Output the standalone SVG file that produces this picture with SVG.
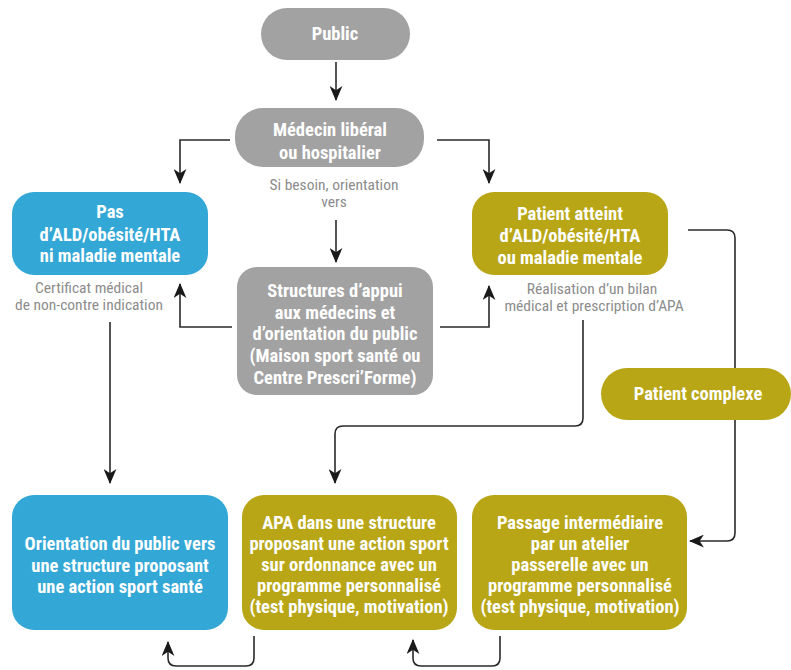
<svg xmlns="http://www.w3.org/2000/svg" width="791" height="670" viewBox="0 0 791 670">
<defs>
<marker id="ah" markerUnits="userSpaceOnUse" viewBox="0 0 14 12" refX="13" refY="6" markerWidth="15" markerHeight="13" orient="auto">
<path d="M0,0 L14,6 L0,12 L4,6 z" fill="#1a1a1a"/>
</marker>
<style>
.gray{fill:#a2a2a2}
.blue{fill:#33a7d6}
.olive{fill:#b8a617}
.t{font-family:"Liberation Sans Narrow","Roboto Condensed","Liberation Sans",Arial,sans-serif;font-weight:bold;font-size:18.5px;fill:#fff;text-anchor:middle}
.lbl{font-family:"Liberation Sans Narrow","Roboto Condensed","Liberation Sans",Arial,sans-serif;font-size:15.5px;fill:#8c8c8c;text-anchor:middle}
.c{fill:none;stroke:#2a2a2a;stroke-width:1.6}
</style>
</defs>
<rect width="791" height="670" fill="#fff"/>
<g id="connectors">
<path class="c" d="M336,62 V100" marker-end="url(#ah)"/>
<path class="c" d="M230,140 H180 V183" marker-end="url(#ah)"/>
<path class="c" d="M437,140 H489 V183" marker-end="url(#ah)"/>
<path class="c" d="M336,220 V262" marker-end="url(#ah)"/>
<path class="c" d="M232,327 H180 V284" marker-end="url(#ah)"/>
<path class="c" d="M440,327 H489 V286" marker-end="url(#ah)"/>
<path class="c" d="M688,230 H727 Q735,230 735,238 V533 Q735,541 727,541 H690" marker-end="url(#ah)"/>
<path class="c" d="M583,320 V418 Q583,426 575,426 H343 Q335,426 335,434 V483" marker-end="url(#ah)"/>
<path class="c" d="M110,322 V483" marker-end="url(#ah)"/>
<path class="c" d="M254,636 V658 Q254,666 246,666 H176 Q168,666 168,658 V642" marker-end="url(#ah)"/>
<path class="c" d="M500,636 V658 Q500,666 492,666 H421 Q413,666 413,658 V640" marker-end="url(#ah)"/>
</g>
<g id="public">
<rect class="gray" x="261" y="8" width="149" height="52" rx="26"/>
<text class="t" x="335" y="40">Public</text>
</g>
<g id="medecin">
<rect class="gray" x="235" y="108" width="189" height="59" rx="28"/>
<text class="t" x="330" y="136">Médecin libéral</text>
<text class="t" x="330" y="159">ou hospitalier</text>
</g>
<g id="label-besoin">
<text class="lbl" x="334" y="190">Si besoin, orientation</text>
<text class="lbl" x="334" y="207">vers</text>
</g>
<g id="pas-ald">
<rect class="blue" x="12" y="192" width="196" height="83" rx="22"/>
<text class="t" x="110" y="218">Pas</text>
<text class="t" x="110" y="241">d’ALD/obésité/HTA</text>
<text class="t" x="110" y="262">ni maladie mentale</text>
</g>
<g id="label-certificat">
<text class="lbl" x="89" y="293">Certificat médical</text>
<text class="lbl" x="89" y="310">de non-contre indication</text>
</g>
<g id="structures">
<rect class="gray" x="237" y="267" width="196" height="128" rx="20"/>
<text class="t" x="335" y="297">Structures  d’appui</text>
<text class="t" x="335" y="319">aux médecins et</text>
<text class="t" x="335" y="340">d’orientation du public</text>
<text class="t" x="335" y="362">(Maison sport santé ou</text>
<text class="t" x="335" y="384">Centre Prescri’Forme)</text>
</g>
<g id="patient-atteint">
<rect class="olive" x="472" y="192" width="196" height="83" rx="22"/>
<text class="t" x="570" y="220">Patient atteint</text>
<text class="t" x="570" y="242">d’ALD/obésité/HTA</text>
<text class="t" x="570" y="264">ou maladie mentale</text>
</g>
<g id="label-bilan">
<text class="lbl" x="592" y="294">Réalisation d’un bilan</text>
<text class="lbl" x="594" y="311">médical et prescription d’APA</text>
</g>
<g id="patient-complexe">
<rect class="olive" x="601" y="368" width="190" height="52" rx="26"/>
<text class="t" x="698" y="400">Patient complexe</text>
</g>
<g id="orientation">
<rect class="blue" x="12" y="495" width="216" height="135" rx="22"/>
<text class="t" x="120" y="550">Orientation du public vers</text>
<text class="t" x="120" y="572">une structure proposant</text>
<text class="t" x="120" y="593">une action sport santé</text>
</g>
<g id="apa">
<rect class="olive" x="242" y="495" width="215" height="135" rx="22"/>
<text class="t" x="349" y="529">APA dans une structure</text>
<text class="t" x="349" y="550">proposant une action sport</text>
<text class="t" x="349" y="571">sur ordonnance avec un</text>
<text class="t" x="349" y="592"> programme personnalisé</text>
<text class="t" x="349" y="613">(test physique, motivation)</text>
</g>
<g id="passage">
<rect class="olive" x="472" y="495" width="215" height="135" rx="22"/>
<text class="t" x="580" y="529">Passage intermédiaire</text>
<text class="t" x="580" y="550">par un atelier</text>
<text class="t" x="580" y="571">passerelle avec un</text>
<text class="t" x="580" y="592">programme personnalisé</text>
<text class="t" x="580" y="613">(test physique, motivation)</text>
</g>
</svg>
